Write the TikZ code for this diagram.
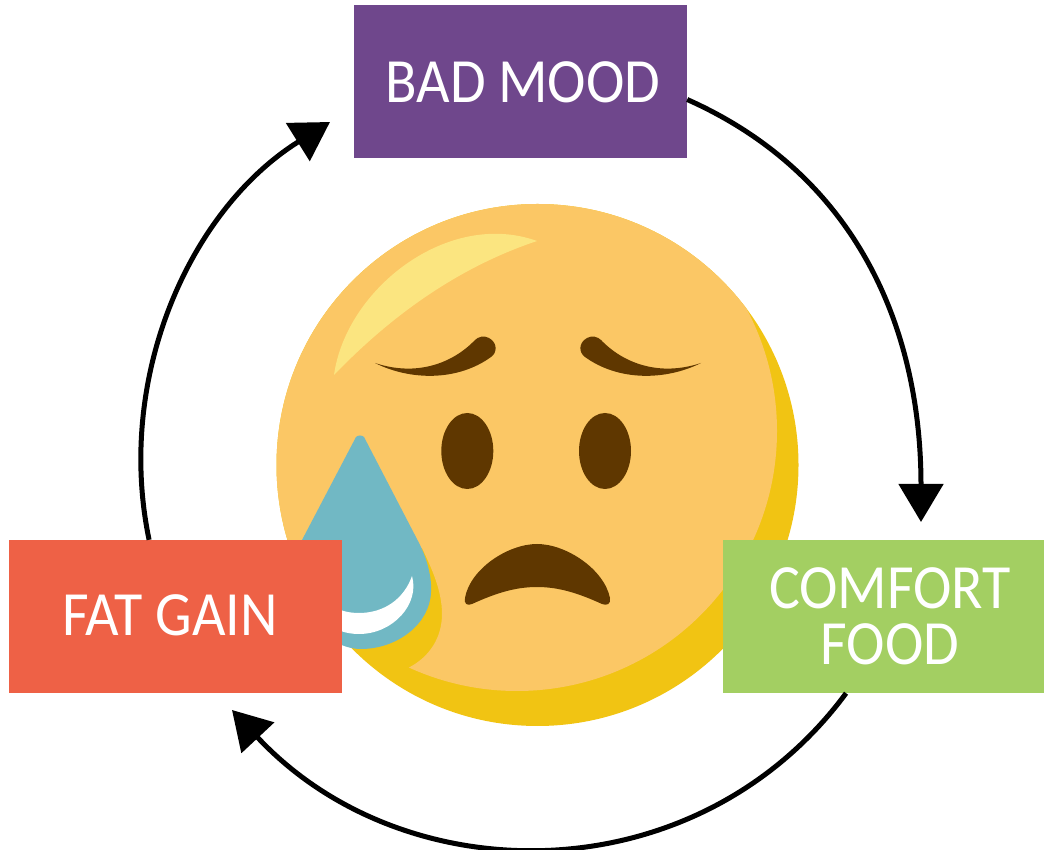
\documentclass[tikz,border=0pt]{standalone}
\usepackage{fontspec}
\setmainfont[FakeStretch=.92,WordSpace=.95]{Carlito}
\usetikzlibrary{arrows.meta}
\definecolor{moodpurple}{HTML}{6F478C}
\definecolor{foodgreen}{HTML}{A3CF62}
\definecolor{gainred}{HTML}{EE6146}
\definecolor{faceshade}{HTML}{F1C413}
\definecolor{facelight}{HTML}{FBC765}
\definecolor{faceshine}{HTML}{FBE580}
\definecolor{facebrown}{HTML}{5F3700}
\definecolor{teardrop}{HTML}{71B8C4}
\tikzset{>={Triangle[length=38pt,width=44pt]}}
\tikzset{labelbox/.style={minimum height=153pt,inner sep=0pt,text=white,align=center,font=\fontsize{63}{56}\selectfont}}
\tikzset{loopedge/.style={->,line width=5pt}}
\begin{document}
\begin{tikzpicture}[x=1pt,y=1pt]
  \useasboundingbox (0,0) rectangle (1044,849);
  % face
  \fill[faceshade](537.5,384) circle (261);
  \begin{scope}
    \clip (537.5,384) circle (261);
    \clip (517,418) circle (260);
    \fill[facelight](408,181) .. controls (430,192) and (442,212) .. (442,235) .. controls (442,258) and (432,280) .. (422,301) -- (200,301) -- (200,700) -- (900,700) -- (900,100) -- (408,100) -- cycle;
  \end{scope}
  \fill[faceshine](334,474) .. controls (346,560) and (448,640) .. (537,608) .. controls (453,580) and (386,528) .. (334,474) -- cycle;
  \fill[facebrown](375,486) .. controls (411,468) and (458,468) .. (491,492) .. controls (497,496) and (498,506) .. (489,511) .. controls (484,514) and (478,512) .. (475,509) .. controls (453,486) and (417,472) .. (375,486) -- cycle;
  \fill[facebrown](701,486) .. controls (665,468) and (618,468) .. (585,492) .. controls (579,496) and (578,506) .. (587,511) .. controls (592,514) and (598,512) .. (601,509) .. controls (623,486) and (659,472) .. (701,486) -- cycle;
  \fill[facebrown](467.3,398) ellipse (26 and 38);
  \fill[facebrown](605,398) ellipse (26 and 38);
  \fill[facebrown](465,251) .. controls (470,280) and (508,305) .. (537,305) .. controls (566,305) and (604,280) .. (610,251) .. controls (611,245) and (607,243) .. (602,245) .. controls (580,255) and (560,262) .. (537,262) .. controls (514,262) and (494,255) .. (472,245) .. controls (467,243) and (464,245) .. (465,251) -- cycle;
  \fill[teardrop](356,412) .. controls (358,414) and (362,414) .. (364,412) -- (418,308) .. controls (427,291) and (432,272) .. (431,257) .. controls (430,225) and (397,200) .. (361,200) .. controls (320,200) and (280,255) .. (302,309) -- cycle;
  \fill[white](412,273) .. controls (420,245) and (393,215) .. (359,215) .. controls (346,215) and (336,219) .. (330,224) -- (330,244) .. controls (340,238) and (349,236) .. (359,236) .. controls (384,236) and (404,250) .. (412,273) -- cycle;
  % boxes
  \node[labelbox,fill=moodpurple,minimum width=333pt](badmood) at (520.5,767) {\hspace*{5pt}BAD MOOD};
  \node[labelbox,fill=foodgreen,minimum width=321pt](comfort) at (883.5,232.5) {\hspace*{13pt}COMFORT\\\hspace*{13pt}FOOD};
  \node[labelbox,fill=gainred,minimum width=333pt](fatgain) at (175.5,232.5) {\raisebox{3pt}{FAT GAIN}\hspace*{11pt}};
  \coordinate (foodtip) at (921,327);
  \coordinate (gaintip) at (232,139);
  \coordinate (moodtip) at (330,727);
  % cycle
  \draw[loopedge](badmood.-6) to[out=-24,in=90](foodtip);
  \draw[loopedge](comfort.-116.7) to[out=-126.5,in=-47,looseness=1.05](gaintip);
  \draw[loopedge](fatgain.109.8) to[out=101.8,in=212,looseness=.93](moodtip);
\end{tikzpicture}
\end{document}
